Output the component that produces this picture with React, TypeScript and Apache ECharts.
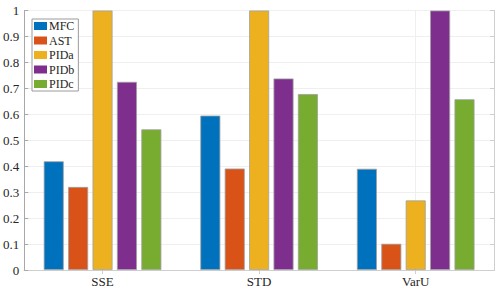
import React, { useEffect, useRef } from "react";
import * as echarts from "echarts";

const categories = ["SSE", "STD", "VarU"];
const seriesNames = ["MFC", "AST", "PIDa", "PIDb", "PIDc"];
const mfc = [0.419, 0.595, 0.39];
const ast = [0.32, 0.391, 0.101];
const pida = [1.0, 1.0, 0.268];
const pidb = [0.725, 0.738, 1.0];
const pidc = [0.542, 0.678, 0.658];
const seriesValues = [mfc, ast, pida, pidb, pidc];
const colors = ["#0072BD", "#D95319", "#EDB120", "#7E2F8E", "#77AC30"];

const FONT = "Liberation Serif";

export default function App() {
  const ref = useRef<HTMLDivElement>(null);
  useEffect(() => {
    document.body.style.margin = "0";
    if (!ref.current) return;
    const chart = echarts.init(ref.current, null, { renderer: "svg" });
    const axisColor = "#a8a8a8";
    chart.setOption({
      animation: false,
      backgroundColor: "#ffffff",
      textStyle: { fontFamily: FONT },
      grid: { left: 24, right: 6, top: 10.5, bottom: 20, containLabel: false },
      legend: {
        orient: "vertical",
        left: 32,
        top: 19,
        icon: "rect",
        itemWidth: 13,
        itemHeight: 8,
        itemGap: 2.5,
        padding: [1, 4, 1, 2],
        borderColor: "#9a9a9a",
        borderWidth: 1,
        backgroundColor: "#ffffff",
        data: seriesNames,
        textStyle: { fontFamily: FONT, fontSize: 12, lineHeight: 11, color: "#262626", padding: [0, 0, 0, -3] },
        itemStyle: { borderWidth: 0 },
      },
      xAxis: [
        {
          type: "category",
          data: categories,
          boundaryGap: true,
          axisLine: { show: true, lineStyle: { color: axisColor, width: 1 } },
          axisTick: { show: true, inside: true, length: 4, alignWithLabel: true, lineStyle: { color: axisColor } },
          axisLabel: { fontFamily: FONT, fontSize: 13, fontWeight: "normal", color: "#262626", margin: 5 },
          splitLine: { show: true, alignWithLabel: true, lineStyle: { color: "#efefef", width: 1 } },
        },
        {
          type: "category",
          data: categories,
          position: "top",
          boundaryGap: true,
          axisLine: { show: true, lineStyle: { color: "#cfcfcf", width: 1 } },
          axisTick: { show: true, inside: true, length: 4, alignWithLabel: true, lineStyle: { color: "#cfcfcf" } },
          axisLabel: { show: false },
          splitLine: { show: false },
        },
      ],
      yAxis: [
        {
          type: "value",
          min: 0,
          max: 1,
          interval: 0.1,
          axisLine: { show: true, lineStyle: { color: axisColor, width: 1 } },
          axisTick: { show: true, inside: true, length: 4, lineStyle: { color: axisColor } },
          axisLabel: {
            fontFamily: FONT,
            fontSize: 13,
            fontWeight: "normal",
            color: "#262626",
            margin: 5,
            formatter: (v: number) => (v === 0 ? "0" : v === 1 ? "1" : String(Math.round(v * 10) / 10)),
          },
          splitLine: { show: true, lineStyle: { color: "#efefef", width: 1 } },
        },
        {
          type: "value",
          min: 0,
          max: 1,
          interval: 0.1,
          position: "right",
          axisLine: { show: true, lineStyle: { color: "#cfcfcf", width: 1 } },
          axisTick: { show: true, inside: true, length: 4, lineStyle: { color: "#cfcfcf" } },
          axisLabel: { show: false },
          splitLine: { show: false },
        },
      ],
      series: seriesNames.map((name, i) => ({
        name,
        type: "bar",
        data: seriesValues[i],
        barWidth: 20,
        barGap: "22%",
        itemStyle: { color: colors[i], borderColor: "#9f9f9f", borderWidth: 0.8 },
        emphasis: { disabled: true },
      })),
    });
    return () => chart.dispose();
  }, []);
  return <div ref={ref} style={{ width: 500, height: 290 }} />;
}
